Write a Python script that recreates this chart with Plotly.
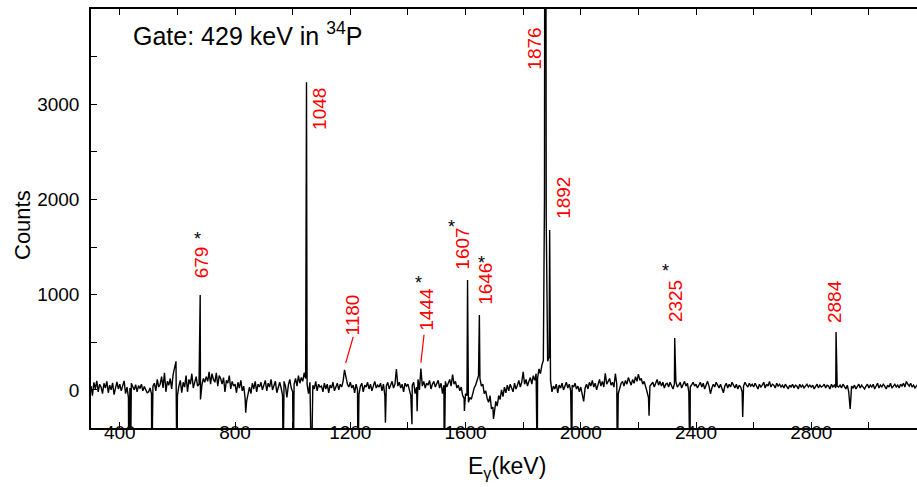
import plotly.graph_objects as go

# ---------------- data ----------------
# background-subtracted gamma spectrum, 5 keV channels from 300 keV
grid_start_kev = 300
grid_step_kev = 5
baseline_counts = [
    40, -60, 80, 10, 95, -20, 60, 30, -40, 70, 20, 90, -30, 50, 0, 75, -50, 40, 85, 10,        # 300
    60, -10, 50, 95, -40, 30, -80, 20, 70, 40, 0, 55, -20, 45, 15, 60, -10, 35, 5, -30,         # 400
    -20, 20, -40, 40, 70, -10, 110, 30, 60, 140, 20, 180, -20, 90, 50, 120, 10, 160, 220, 300,  # 500
    -60, 40, 100, -30, 80, 30, 150, -20, 110, 60, 170, 20, 90, 140, 40, 60, -100, 50, 120, 80,  # 600
    140, 90, 190, 60, 170, 110, 80, 180, 40, 150, 120, 60, 130, -20, 100, 70, 150, 10, 90, 40,  # 700
    60, -30, 80, 20, 100, -10, 40, -90, -120, -60, 30, -40, 70, 10, 90, -20, 60, 30, 80, 0,     # 800
    50, 100, -10, 70, 30, 110, 0, 60, 90, -30, 40, 80, 20, -60, 90, 40, -80, 50, 110, 20,      # 900
    -20, 60, 120, 40, 150, 70, 130, 90, 180, 120, 60, -40, 80, -20, 50, 10, 90, -10, 60, 30,    # 1000
    40, -20, 70, 10, 60, -30, 50, 20, 80, -10, 40, 70, 0, 60, 30, 90, 210, 110, 60, 30,         # 1100
    80, 20, 50, -30, 60, 0, -50, 40, 70, -20, 50, 30, 80, 10, 60, -10, 40, 90, 20, 50,          # 1200
    30, 70, -10, 60, -60, 40, 80, 10, 50, 90, 20, 60, 220, 40, 80, 20, 60, -20, 70, 40,         # 1300
    60, 10, -60, 50, 80, -40, 30, 110, 0, 225, 40, 90, 20, 70, 50, 100, 10, 60, 90, 30,         # 1400
    60, 100, 20, 70, -40, 50, 90, 30, 70, 110, 40, 160, 60, 90, 20, 50, -10, 30, -60, -90,      # 1500
    -40, -60, -130, -80, -100, -20, 20, 50, 90, 150, 120, 40, 60, -40, -10, -90, -130, -60, -200, -180,  # 1600
    -240, -120, -170, -60, -100, 0, -70, 30, -30, 50, -10, 60, 20, -20, 70, 10, 50, 100, 30, 80,  # 1700
    190, 60, 110, 40, 90, 130, 60, 150, 100, 170, 120, 220, 170, 260, 310, 2500, 1800, 300, 350, 100,  # 1800
    -20, 40, 10, 60, -30, 50, 20, 70, 0, 40, 80, 20, 60, -10, 50, 30, 70, 10, 40, -20,          # 1900
    30, -40, -120, 20, 60, 10, 80, 40, 100, 30, 70, 0, 60, 110, 40, 90, 30, 175, 60, 90,        # 2000
    120, 50, 80, 30, 170, 60, -40, 20, 70, 90, 40, 100, 60, 130, 80, 50, 110, 70, 140, 90,      # 2100
    165, 100, 120, 60, 90, 20, -20, -80, 40, 60, 80, 30, 70, 110, 50, 90, 40, 80, 20, 60,       # 2200
    70, 30, 80, 40, 10, 60, 90, 30, 50, 80, 20, 60, 90, 40, 70, -20, 30, 60, 80, 40,            # 2300
    60, 20, 50, 80, 30, 70, 10, 50, 90, 40, -40, 20, 60, 30, 80, 50, 20, 60, 10, -30,           # 2400
    40, 70, 20, 60, 30, 80, 50, 20, 60, 10, 50, 30, -20, 40, 80, 50, 30, 70, 40, 60,            # 2500
    30, 70, 40, 10, 60, 30, 50, 80, 20, 60, 40, 90, 30, 60, 50, 20, 70, 40, 60, 30,             # 2600
    50, 20, 60, 40, 10, 50, 30, 60, 20, 50, 40, 10, 60, 30, 50, 20, 40, 60, 30, 50,             # 2700
    30, 50, 10, 40, 60, 20, 50, 30, 40, 60, 20, 50, 40, 10, 60, 30, 50, 20, 40, 30,             # 2800
    50, 20, 60, 40, 10, 50, -20, 0, 40, 20, 50, 10, 40, 60, 20, 50, 30, 10, 40, 60,             # 2900
    20, 50, 30, 60, 10, 40, 70, 20, 50, 30, 60, 40, 10, 50, 30, 70, 20, 40, 60, 30,             # 3000
    50, 20, 60, 40, 70, 30, 90, 60, 40, 70, 30, 50, 20, 40, 60,                                 # 3100
]

# narrow photopeaks (single channels)
peak_energy = [679, 1048, 1607, 1648, 1874, 1876, 1878, 1892, 2326, 2886]
peak_counts = [997, 3232, 1154, 787, 2000, 9000, 8000, 1679, 546, 608]

# subtraction artefacts (negative spikes)
dip_energy = [431, 437, 511, 598, 837, 967, 1002, 1065, 1227, 1322, 1414, 1432, 1526,
              1596, 1697, 1849, 1969, 2127, 2237, 2379, 2562, 2935]
dip_counts = [-900, -900, -900, -900, -240, -900, -900, -900, -900, -345, -360, -225, -900,
              -220, -305, -900, -900, -900, -270, -900, -285, -200]

# red energy labels: text, label centre (keV, counts)
label_text = ["679", "1048", "1180", "1444", "1607", "1646", "1876", "1892", "2325", "2884"]
label_x = [683, 1093, 1211, 1466, 1589, 1667, 1838, 1940, 2331, 2879]
label_y = [1343, 2956, 787, 852, 1487, 1112, 3585, 2022, 934, 923]

# asterisks
star_x = [668, 1436, 1552, 1656, 2295]
star_y = [1590, 1120, 1712, 1332, 1252]

# leader lines for weak peaks: (x0, y0, x1, y1)
leader_lines = [(1210, 556, 1184, 283), (1456, 580, 1445, 285)]

x_range = [300, 3167]
y_range = [-400, 4000]

# ---------------- build spectrum ----------------
spec = {grid_start_kev + grid_step_kev * i: v for i, v in enumerate(baseline_counts)}
for e, c in zip(peak_energy, peak_counts):
    spec[e] = c
for e, c in zip(dip_energy, dip_counts):
    spec[e] = c
energies = sorted(spec)
counts = [spec[e] for e in energies]

FONT = "Liberation Sans"

fig = go.Figure()
fig.add_trace(go.Scatter(x=energies, y=counts, mode="lines",
                         line=dict(color="black", width=1.4), showlegend=False,
                         hoverinfo="skip"))

W, H = 917, 487
ML, MR, MT, MB = 91, 0, 9, 59
pw, ph = W - ML - MR, H - MT - MB


def px_to_paper(px, py):
    return (px - ML) / pw, (H - MB - py) / ph


annotations = []
for t, x, y in zip(label_text, label_x, label_y):
    annotations.append(dict(x=x, y=y, xref="x", yref="y", text=t, showarrow=False,
                            textangle=-90, xanchor="center", yanchor="middle",
                            font=dict(family=FONT, size=19, color="red")))
for x, y in zip(star_x, star_y):
    annotations.append(dict(x=x, y=y, xref="x", yref="y", text="*", showarrow=False,
                            xanchor="center", yanchor="middle",
                            font=dict(family=FONT, size=18, color="black")))

gx, gy = px_to_paper(131, 34)
annotations.append(dict(x=gx, y=gy, xref="paper", yref="paper",
                        text="Gate: 429 keV in <sup>34</sup>P", showarrow=False,
                        xanchor="left", yanchor="middle",
                        font=dict(family=FONT, size=25, color="black")))
cx, cy = px_to_paper(22, 225)
annotations.append(dict(x=cx, y=cy, xref="paper", yref="paper", text="Counts",
                        showarrow=False, textangle=-90, xanchor="center", yanchor="middle",
                        font=dict(family=FONT, size=22, color="black")))
ex, ey = px_to_paper(507, 467)
annotations.append(dict(x=ex, y=ey, xref="paper", yref="paper", text="E<sub>γ</sub>(keV)",
                        showarrow=False, xanchor="center", yanchor="middle",
                        font=dict(family=FONT, size=23, color="black")))

shapes = []
for x0, y0, x1, y1 in leader_lines:
    shapes.append(dict(type="line", xref="x", yref="y", x0=x0, y0=y0, x1=x1, y1=y1,
                       line=dict(color="red", width=1.2)))

fig.update_layout(
    width=W, height=H,
    margin=dict(l=ML, r=MR, t=MT, b=MB),
    paper_bgcolor="white", plot_bgcolor="white",
    annotations=annotations, shapes=shapes,
    font=dict(family=FONT, size=19, color="black"),
)
fig.update_xaxes(range=x_range, showgrid=False, zeroline=False,
                 showline=True, linecolor="black", linewidth=1.5, mirror="ticks",
                 ticks="inside", ticklen=6, tickwidth=1.2, tickcolor="black",
                 tick0=400, dtick=400,
                 minor=dict(ticks="inside", ticklen=6, tickwidth=1.2, tickcolor="black",
                            tick0=200, dtick=200),
                 tickfont=dict(family=FONT, size=19, color="black"),
                 ticklabelstandoff=-14)
fig.update_yaxes(range=y_range, showgrid=False, zeroline=False,
                 showline=True, linecolor="black", linewidth=1.5,
                 ticks="inside", ticklen=6, tickwidth=1.2, tickcolor="black",
                 tick0=0, dtick=1000,
                 minor=dict(ticks="inside", ticklen=6, tickwidth=1.2, tickcolor="black",
                            tick0=0, dtick=500),
                 tickfont=dict(family=FONT, size=19, color="black"),
                 ticklabelstandoff=6)

fig.write_html("out.html", config={"displayModeBar": False},
               post_script="document.body.style.margin='0px';document.body.style.overflow='hidden';")
